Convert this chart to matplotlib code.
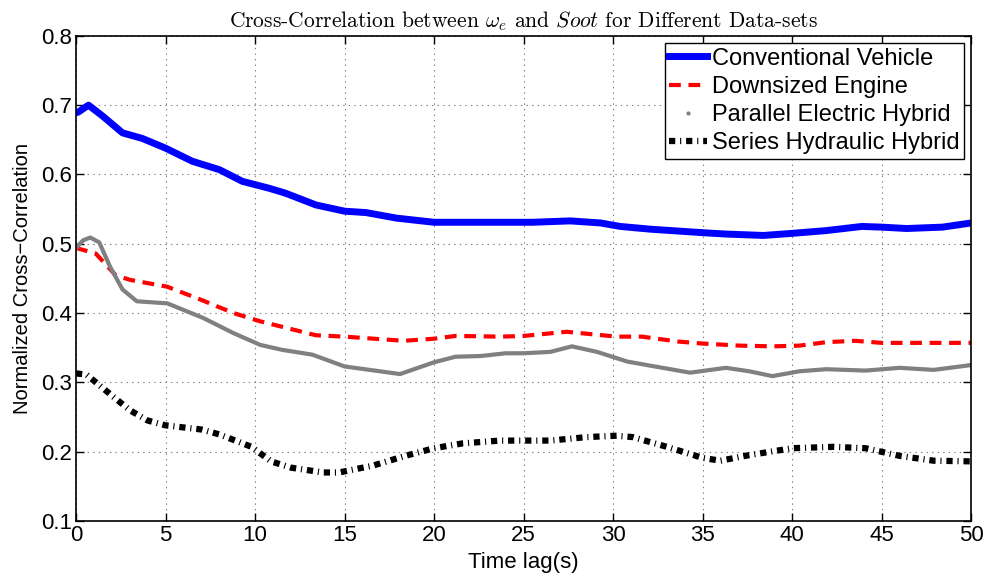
import numpy as np
import matplotlib
matplotlib.use('Agg')
import matplotlib.pyplot as plt
from matplotlib.lines import Line2D

plt.rcParams['font.family'] = ['Liberation Sans', 'DejaVu Sans']
plt.rcParams['mathtext.fontset'] = 'cm'
plt.rcParams['lines.scale_dashes'] = False

# Conventional Vehicle
tConv = [0, 0.13, 0.7, 1.5, 2.6, 3.7, 5, 6.5, 8, 9.3, 10.8, 11.7, 13.4, 15, 16.2, 17.9, 20,
         22.6, 25.5, 27.6, 29.3, 30.4, 32.1, 35, 36.3, 38.4, 40, 41.9, 43.9, 45, 46.4, 48.4, 50]
conv = [0.689, 0.690, 0.700, 0.684, 0.660, 0.652, 0.638, 0.619, 0.607, 0.590, 0.580, 0.573, 0.556,
        0.547, 0.545, 0.537, 0.531, 0.531, 0.531, 0.533, 0.530, 0.525, 0.521, 0.516, 0.514, 0.512,
        0.515, 0.519, 0.525, 0.524, 0.522, 0.524, 0.530]

# Downsized Engine
tDown = [0, 1.1, 2.2, 3, 5.1, 7, 8.8, 10.3, 13.4, 15, 18.3, 20, 21.2, 23.7, 25, 27.4, 30.2,
         31.6, 33.6, 35, 37.1, 38.9, 40.4, 41.9, 43.5, 45, 47.9, 50]
down = [0.494, 0.486, 0.455, 0.448, 0.438, 0.419, 0.400, 0.388, 0.368, 0.366, 0.360, 0.363, 0.367,
        0.366, 0.367, 0.373, 0.366, 0.366, 0.359, 0.356, 0.353, 0.352, 0.353, 0.358, 0.360, 0.357,
        0.357, 0.357]

# Parallel Electric Hybrid
tPar = [0, 0.4, 0.8, 1.3, 1.9, 2.6, 3.4, 5.1, 7.1, 8.8, 10.3, 11.5, 13.2, 15, 18.1, 20, 21.2, 22.6,
        24, 25, 26.5, 27.7, 29.1, 30.8, 32.1, 34.3, 36.3, 37.6, 38.9, 40.4, 41.9, 44.1, 46, 47.9, 50]
par = [0.494, 0.505, 0.509, 0.502, 0.467, 0.434, 0.417, 0.414, 0.393, 0.371, 0.354, 0.347, 0.340,
       0.323, 0.312, 0.329, 0.337, 0.338, 0.342, 0.342, 0.344, 0.352, 0.344, 0.330, 0.324, 0.314,
       0.321, 0.316, 0.309, 0.316, 0.319, 0.317, 0.321, 0.318, 0.325]

# Series Hydraulic Hybrid
tSer = [0, 0.6, 1.3, 2.1, 3, 4, 5, 6, 7, 8, 9, 9.8, 10.9, 12, 13.8, 14.7, 16.6, 18.4, 20, 21.6,
        23.7, 26.5, 28.5, 30.2, 31.1, 33, 35, 36, 37.6, 40, 42.3, 44.1, 46, 47.9, 50]
ser = [0.313, 0.311, 0.296, 0.279, 0.260, 0.245, 0.238, 0.235, 0.232, 0.225, 0.215, 0.207, 0.186,
       0.177, 0.170, 0.170, 0.180, 0.194, 0.205, 0.212, 0.216, 0.216, 0.221, 0.223, 0.221, 0.207,
       0.191, 0.187, 0.195, 0.205, 0.207, 0.205, 0.194, 0.187, 0.186]

fig = plt.figure(figsize=(9.92, 5.81), dpi=100)
ax = fig.add_axes([0.0766, 0.1033, 0.9024, 0.835])

ax.plot(tConv, conv, color='blue', lw=5, solid_joinstyle='round', label='Conventional Vehicle')
ax.plot(tDown, down, color='red', lw=3, dashes=(8.5, 5.5), label='Downsized Engine')
ax.plot(tPar, par, color='gray', lw=3, solid_capstyle='round', solid_joinstyle='round')
ax.plot(tSer, ser, color='black', lw=4.5, dashes=(4.5, 3.5, 0.8, 3.5), dash_capstyle='butt',
        label='Series Hydraulic Hybrid')

ax.set_xlim(0, 50)
ax.set_ylim(0.1, 0.8)
ax.set_xticks(np.arange(0, 51, 5))
ax.set_yticks(np.arange(0.1, 0.81, 0.1))
ax.set_yticklabels(['%.1f' % v for v in np.arange(0.1, 0.81, 0.1)])
ax.grid(True, linestyle=(0, (1, 3)), color='gray', lw=0.8)
ax.tick_params(direction='in', top=True, right=True, labelsize=16, length=6, width=1, pad=3)
for s in ax.spines.values():
    s.set_linewidth(1.2)

ax.set_xlabel('Time lag(s)', fontsize=16, labelpad=4)
ax.set_ylabel('Normalized Cross\u2212Correlation', fontsize=14.5, labelpad=6)
ax.set_title(r'Cross-Correlation between $\omega_e$ and $Soot$ for Different Data-sets',
             fontsize=15.5, family='cmr10', pad=6)

h, l = ax.get_legend_handles_labels()
parHandle = Line2D([], [], color='gray', marker='.', ls='none', markersize=4)
handles = [h[0], h[1], parHandle, h[2]]
labels = ['Conventional Vehicle', 'Downsized Engine', 'Parallel Electric Hybrid', 'Series Hydraulic Hybrid']
leg = ax.legend(handles, labels, loc='upper right', fontsize=17, fancybox=False, framealpha=1,
                edgecolor='black', handlelength=1.6, handletextpad=0.2, borderpad=0.2,
                labelspacing=0.26, borderaxespad=0.3)
leg.get_frame().set_linewidth(1)

fig.savefig('out.png', dpi=100)
